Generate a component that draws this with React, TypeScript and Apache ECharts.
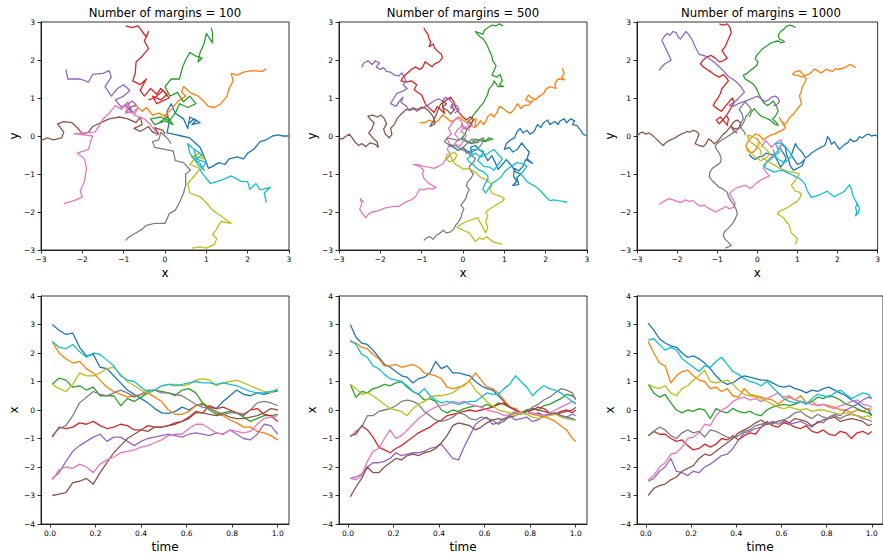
import React, { useEffect, useRef } from "react";
import * as echarts from "echarts";

// matplotlib tab10 colours: blue, orange, green, red, purple, brown, pink, gray, olive, cyan
const COLORS = ["#1f77b4", "#ff7f0e", "#2ca02c", "#d62728", "#9467bd", "#8c564b", "#e377c2", "#7f7f7f", "#bcbd22", "#17becf"];
const MARGINS = [100, 500, 1000];
const TIME_TICKS = [0, 0.2, 0.4, 0.6, 0.8, 1.0];

// time grids of the x(t) panels
const TIME_100 = [0.01, 0.04, 0.07, 0.1, 0.13, 0.16, 0.19, 0.22, 0.25, 0.28, 0.31, 0.34, 0.37, 0.4, 0.43, 0.46, 0.49, 0.52, 0.55, 0.58, 0.61, 0.64, 0.67, 0.7, 0.73, 0.76, 0.79, 0.82, 0.85, 0.88, 0.91, 0.94, 0.97, 1.0];
const TIME_FINE = [0.01, 0.035, 0.06, 0.085, 0.11, 0.135, 0.16, 0.185, 0.21, 0.235, 0.26, 0.285, 0.31, 0.335, 0.36, 0.385, 0.41, 0.435, 0.46, 0.485, 0.51, 0.535, 0.56, 0.585, 0.61, 0.635, 0.66, 0.685, 0.71, 0.735, 0.76, 0.785, 0.81, 0.835, 0.86, 0.885, 0.91, 0.935, 0.96, 0.985, 1.0];

// 2-D paths (x, y), margins = 100
const PATH_100 = [
  [[3.0,0.0],[2.85,0.0],[2.75,0.03],[2.6,0.0],[2.45,-0.1],[2.3,-0.15],[2.15,-0.35],[2.0,-0.45],[1.9,-0.6],[1.75,-0.55],[1.55,-0.6],[1.45,-0.75],[1.3,-0.7],[1.15,-0.8],[1.05,-0.85],[0.95,-0.55],[0.85,-0.3],[0.6,-0.05],[0.4,0.0],[0.2,0.05],[0.05,0.08],[0.1,0.35],[0.05,0.65],[0.15,0.85],[0.25,0.6],[0.45,0.45],[0.55,0.2],[0.6,0.5],[0.75,0.4],[0.65,0.3],[0.85,0.35],[0.7,0.45],[0.6,0.35],[0.65,0.4]],
  [[2.45,1.77],[2.35,1.7],[2.1,1.72],[1.9,1.68],[1.75,1.6],[1.6,1.65],[1.65,1.45],[1.55,1.25],[1.5,1.05],[1.35,0.85],[1.2,0.75],[1.05,0.78],[0.95,0.9],[0.8,1.05],[0.6,1.15],[0.45,1.3],[0.4,1.15],[0.5,1.05],[0.3,0.9],[0.15,0.7],[0.0,0.55],[0.1,0.45],[-0.05,0.55],[-0.15,0.6],[-0.3,0.55],[-0.45,0.75],[-0.55,0.65],[-0.7,0.8],[-0.85,0.75],[-1.0,0.8]],
  [[1.12,2.85],[1.15,2.7],[1.15,2.45],[1.0,2.7],[0.95,2.45],[0.85,2.2],[0.8,1.95],[0.9,2.05],[0.75,2.1],[0.6,2.2],[0.5,2.0],[0.42,1.8],[0.35,1.5],[0.15,1.5],[0.0,1.3],[0.12,1.05],[0.3,1.15],[0.45,0.9],[0.6,1.05],[0.75,0.85],[0.55,0.75],[0.35,0.85],[0.25,0.6],[0.1,0.4],[-0.1,0.5],[-0.35,0.45],[-0.25,0.3],[0.0,0.4],[0.2,0.3],[0.05,0.5],[-0.15,0.35]],
  [[-0.95,2.9],[-0.8,2.85],[-0.65,2.9],[-0.55,2.75],[-0.45,2.6],[-0.4,2.75],[-0.5,2.5],[-0.4,2.3],[-0.55,2.1],[-0.7,1.95],[-0.72,1.65],[-0.78,1.45],[-0.6,1.35],[-0.45,1.5],[-0.6,1.2],[-0.5,1.05],[-0.35,1.25],[-0.2,1.1],[-0.1,1.25],[0.05,1.1],[-0.1,0.95],[-0.3,1.05],[-0.2,0.85],[0.1,1.0],[-0.05,1.2],[-0.25,1.0],[-0.4,0.95]],
  [[-2.4,1.75],[-2.35,1.5],[-2.05,1.5],[-1.85,1.42],[-1.75,1.62],[-1.5,1.65],[-1.35,1.72],[-1.3,1.55],[-1.45,1.3],[-1.3,1.05],[-1.15,1.25],[-1.0,1.35],[-0.85,1.2],[-1.0,1.05],[-1.2,0.95],[-1.05,0.75],[-0.9,0.88],[-0.8,0.65],[-0.95,0.6],[-0.85,0.75],[-0.7,0.82],[-0.8,0.92],[-0.95,0.78],[-0.75,0.6],[-0.85,0.7]],
  [[-3.0,-0.12],[-2.85,-0.05],[-2.7,-0.1],[-2.5,-0.05],[-2.45,0.1],[-2.6,0.32],[-2.45,0.38],[-2.25,0.35],[-2.1,0.2],[-2.0,0.05],[-1.85,0.1],[-1.75,0.25],[-1.55,0.35],[-1.35,0.45],[-1.1,0.5],[-0.9,0.45],[-0.7,0.35],[-0.6,0.5],[-0.55,0.3],[-0.75,0.2],[-0.6,0.12],[-0.4,0.25],[-0.3,0.1],[-0.15,0.05],[-0.25,0.22],[-0.05,0.15],[0.0,0.05]],
  [[-2.45,-1.78],[-2.2,-1.7],[-2.0,-1.6],[-2.05,-1.45],[-1.95,-1.2],[-1.9,-0.85],[-1.95,-0.6],[-2.12,-0.45],[-1.85,-0.35],[-1.8,-0.15],[-1.75,0.0],[-2.2,0.06],[-1.7,0.1],[-1.6,0.25],[-1.5,0.45],[-1.35,0.6],[-1.2,0.8],[-1.05,0.7],[-0.9,0.9],[-0.95,0.65],[-0.8,0.6],[-0.65,0.75],[-0.75,0.55],[-0.5,0.45],[-0.35,0.3],[-0.25,0.15],[-0.2,0.0]],
  [[-0.95,-2.75],[-0.9,-2.68],[-0.78,-2.6],[-0.55,-2.45],[-0.45,-2.35],[-0.25,-2.3],[0.0,-2.3],[0.1,-2.05],[0.25,-1.95],[0.35,-1.75],[0.45,-1.5],[0.5,-1.3],[0.5,-1.0],[0.62,-0.9],[0.45,-0.7],[0.25,-0.65],[0.2,-0.4],[0.0,-0.35],[-0.25,-0.3],[-0.3,-0.15],[-0.15,-0.1],[-0.1,0.1],[0.05,-0.05],[0.15,-0.2]],
  [[0.65,-2.95],[0.85,-2.92],[1.0,-2.95],[1.2,-2.85],[1.25,-2.7],[1.15,-2.6],[1.25,-2.45],[1.35,-2.25],[1.6,-2.3],[1.35,-2.1],[1.15,-1.95],[1.0,-1.75],[0.85,-1.6],[0.6,-1.5],[0.55,-1.25],[0.75,-1.0],[0.85,-0.85],[0.6,-0.75],[0.75,-0.55],[0.95,-0.6],[0.85,-0.45],[0.65,-0.55],[0.8,-0.7],[0.7,-0.5]],
  [[2.45,-1.75],[2.4,-1.5],[2.55,-1.35],[2.3,-1.42],[2.2,-1.25],[2.05,-1.4],[2.0,-1.2],[1.85,-1.2],[1.6,-1.05],[1.4,-1.15],[1.25,-1.2],[1.1,-1.25],[0.95,-1.05],[0.85,-0.9],[1.0,-0.7],[0.75,-0.6],[0.9,-0.5],[0.65,-0.3],[0.55,-0.2],[0.6,-0.45],[0.8,-0.75],[0.95,-0.9],[0.75,-0.55],[0.7,-0.35]],
];

// 2-D paths (x, y), margins = 500
const PATH_500 = [
  [[3.0,0.0],[2.9,0.05],[2.85,0.15],[2.75,0.28],[2.65,0.3],[2.7,0.4],[2.6,0.45],[2.5,0.35],[2.45,0.45],[2.35,0.4],[2.3,0.3],[2.22,0.38],[2.1,0.3],[2.05,0.42],[1.95,0.35],[1.88,0.22],[1.8,0.3],[1.72,0.12],[1.62,0.05],[1.55,0.15],[1.45,0.08],[1.38,0.2],[1.3,0.1],[1.25,-0.05],[1.15,-0.1],[1.05,-0.2],[1.0,-0.35],[1.12,-0.3],[1.2,-0.42],[1.32,-0.35],[1.42,-0.18],[1.5,-0.3],[1.6,-0.42],[1.55,-0.6],[1.68,-0.72],[1.52,-0.62],[1.45,-0.8],[1.35,-0.92],[1.25,-0.85],[1.22,-1.05],[1.3,-1.2],[1.2,-1.3],[1.35,-1.28],[1.3,-1.1],[1.4,-1.0],[1.28,-0.95],[1.15,-0.75],[1.05,-0.62],[0.95,-0.75],[0.85,-0.88],[0.78,-0.7],[0.7,-0.52],[0.6,-0.65],[0.5,-0.45],[0.38,-0.35],[0.3,-0.25],[0.18,-0.3],[0.22,-0.45],[0.1,-0.4],[0.0,-0.3],[-0.12,-0.38],[-0.25,-0.28],[-0.35,-0.25]],
  [[2.4,1.78],[2.45,1.65],[2.38,1.55],[2.45,1.48],[2.3,1.5],[2.22,1.38],[2.25,1.25],[2.1,1.3],[2.0,1.22],[1.95,1.12],[1.85,1.05],[1.75,0.95],[1.65,1.02],[1.58,1.08],[1.52,0.95],[1.65,0.88],[1.7,0.95],[1.6,0.82],[1.48,0.8],[1.4,0.72],[1.32,0.85],[1.25,0.72],[1.15,0.6],[1.05,0.65],[0.98,0.72],[0.88,0.78],[0.82,0.62],[0.75,0.5],[0.68,0.58],[0.6,0.52],[0.55,0.38],[0.5,0.3],[0.42,0.4],[0.35,0.28],[0.28,0.22],[0.32,0.45],[0.22,0.38],[0.12,0.33],[0.0,0.42],[-0.1,0.5],[-0.2,0.42],[-0.3,0.38],[-0.42,0.5],[-0.5,0.55],[-0.6,0.4],[-0.7,0.35],[-0.82,0.42],[-0.92,0.35],[-1.05,0.35]],
  [[0.97,2.9],[0.88,2.95],[0.8,2.9],[0.7,2.92],[0.6,2.85],[0.52,2.78],[0.48,2.68],[0.38,2.72],[0.3,2.75],[0.4,2.62],[0.5,2.55],[0.55,2.45],[0.6,2.35],[0.65,2.22],[0.7,2.1],[0.72,1.98],[0.8,1.85],[0.75,1.72],[0.7,1.6],[0.82,1.55],[0.9,1.62],[0.95,1.45],[0.88,1.35],[0.98,1.3],[0.85,1.3],[0.75,1.45],[0.72,1.35],[0.62,1.22],[0.6,1.1],[0.55,1.0],[0.5,0.88],[0.42,0.78],[0.35,0.68],[0.3,0.62],[0.38,0.72],[0.25,0.55],[0.2,0.45],[0.12,0.38],[0.22,0.3],[0.1,0.2],[0.05,0.05],[-0.05,-0.08],[0.08,-0.15],[0.2,-0.2],[0.3,-0.08],[0.42,-0.12],[0.55,-0.15],[0.62,-0.05],[0.72,-0.08],[0.58,-0.12],[0.45,-0.1]],
  [[-0.95,2.85],[-0.9,2.75],[-0.85,2.68],[-0.82,2.55],[-0.78,2.48],[-0.82,2.35],[-0.72,2.42],[-0.68,2.3],[-0.6,2.22],[-0.52,2.15],[-0.5,2.05],[-0.58,1.95],[-0.68,1.9],[-0.75,1.82],[-0.85,1.9],[-0.92,1.95],[-0.98,1.8],[-1.05,1.75],[-1.15,1.82],[-1.25,1.75],[-1.35,1.65],[-1.45,1.55],[-1.5,1.45],[-1.38,1.42],[-1.25,1.45],[-1.12,1.35],[-1.18,1.22],[-1.1,1.15],[-1.0,1.08],[-0.95,0.95],[-0.9,0.82],[-0.8,0.72],[-0.7,0.62],[-0.62,0.78],[-0.55,0.7],[-0.45,0.6],[-0.5,0.85],[-0.4,0.95],[-0.3,1.02],[-0.22,0.9],[-0.18,0.75],[-0.1,0.62],[-0.02,0.52],[0.08,0.42],[0.18,0.5],[0.25,0.45],[0.2,0.3],[0.12,0.18],[0.02,0.22],[-0.05,0.3]],
  [[-2.45,1.8],[-2.4,1.92],[-2.3,1.98],[-2.2,1.88],[-2.12,1.98],[-2.02,1.92],[-2.1,1.82],[-2.0,1.75],[-1.92,1.8],[-1.85,1.7],[-1.75,1.68],[-1.65,1.6],[-1.55,1.58],[-1.48,1.66],[-1.42,1.55],[-1.38,1.45],[-1.45,1.35],[-1.35,1.25],[-1.45,1.18],[-1.6,1.12],[-1.68,0.98],[-1.75,0.85],[-1.62,0.78],[-1.55,0.9],[-1.45,1.02],[-1.5,0.88],[-1.38,0.8],[-1.3,0.68],[-1.2,0.75],[-1.12,0.65],[-1.02,0.72],[-0.9,0.78],[-0.8,0.85],[-0.7,0.92],[-0.6,0.98],[-0.5,0.92],[-0.42,1.02],[-0.32,0.95],[-0.25,0.85],[-0.3,0.75],[-0.2,0.68],[-0.28,0.82],[-0.15,0.8],[-0.1,0.7],[-0.2,0.6]],
  [[-3.0,-0.05],[-2.92,-0.08],[-2.85,-0.02],[-2.75,0.05],[-2.68,-0.05],[-2.6,-0.18],[-2.52,-0.25],[-2.45,-0.2],[-2.35,-0.28],[-2.25,-0.18],[-2.12,-0.22],[-2.05,-0.3],[-2.08,-0.15],[-2.18,-0.05],[-2.28,0.08],[-2.2,0.2],[-2.15,0.35],[-2.25,0.45],[-2.3,0.52],[-2.18,0.55],[-2.08,0.5],[-1.98,0.55],[-1.9,0.45],[-1.85,0.32],[-1.92,0.18],[-1.88,0.05],[-1.78,-0.05],[-1.72,0.05],[-1.75,0.2],[-1.65,0.32],[-1.6,0.45],[-1.52,0.55],[-1.45,0.62],[-1.38,0.7],[-1.28,0.68],[-1.18,0.72],[-1.08,0.7],[-1.0,0.76],[-0.9,0.72],[-0.82,0.65],[-0.75,0.55],[-0.7,0.45],[-0.68,0.32],[-0.8,0.25],[-0.72,0.4],[-0.65,0.55],[-0.6,0.7],[-0.55,0.82],[-0.48,0.92],[-0.4,0.85],[-0.5,0.75],[-0.38,0.68],[-0.3,0.58],[-0.22,0.68]],
  [[-2.4,-1.75],[-2.48,-1.65],[-2.45,-1.8],[-2.5,-1.92],[-2.45,-2.02],[-2.35,-2.15],[-2.28,-2.05],[-2.2,-2.0],[-2.1,-1.98],[-2.0,-1.95],[-1.9,-1.9],[-1.8,-1.88],[-1.68,-1.85],[-1.55,-1.85],[-1.45,-1.78],[-1.35,-1.72],[-1.25,-1.68],[-1.15,-1.6],[-1.1,-1.5],[-1.05,-1.4],[-0.95,-1.42],[-0.85,-1.38],[-0.75,-1.4],[-0.65,-1.35],[-0.78,-1.28],[-0.88,-1.2],[-0.95,-1.1],[-0.98,-1.0],[-0.95,-0.9],[-1.05,-0.8],[-1.2,-0.75],[-1.1,-0.75],[-0.95,-0.8],[-0.82,-0.82],[-0.7,-0.85],[-0.6,-0.8],[-0.5,-0.75],[-0.42,-0.62],[-0.3,-0.5],[-0.38,-0.35],[-0.32,-0.2],[-0.4,-0.05],[-0.28,0.05],[-0.35,0.2],[-0.25,0.35],[-0.15,0.48],[-0.05,0.4],[0.0,0.28],[-0.12,0.18],[-0.2,0.05],[-0.1,-0.08],[-0.2,-0.2],[-0.08,-0.28],[0.0,-0.15],[0.08,0.02],[-0.05,0.12],[0.05,0.25],[0.15,0.15],[0.1,0.38],[0.2,0.28],[0.25,0.22]],
  [[-0.95,-2.75],[-0.88,-2.68],[-0.8,-2.65],[-0.72,-2.72],[-0.65,-2.62],[-0.55,-2.55],[-0.48,-2.48],[-0.4,-2.55],[-0.3,-2.52],[-0.22,-2.45],[-0.18,-2.35],[-0.12,-2.28],[-0.05,-2.15],[-0.02,-2.02],[0.02,-1.92],[-0.05,-1.82],[0.02,-1.72],[0.08,-1.62],[0.1,-1.52],[0.15,-1.42],[0.08,-1.3],[0.12,-1.2],[0.2,-1.1],[0.25,-1.0],[0.18,-0.9],[0.15,-0.8],[0.25,-0.7],[0.3,-0.6],[0.2,-0.5],[0.1,-0.42],[-0.05,-0.35],[-0.2,-0.25],[-0.35,-0.22],[-0.45,-0.15],[-0.38,-0.05],[-0.25,-0.08],[-0.1,-0.12],[0.0,-0.05],[0.12,-0.15],[0.25,-0.2],[0.38,-0.1],[0.5,-0.05],[0.45,-0.22],[0.35,-0.35],[0.2,-0.42],[0.08,-0.45],[0.0,-0.3],[0.1,-0.2],[0.22,-0.08],[0.32,-0.18],[0.4,-0.15]],
  [[0.95,-2.85],[0.85,-2.82],[0.75,-2.8],[0.65,-2.72],[0.58,-2.65],[0.48,-2.72],[0.4,-2.68],[0.3,-2.78],[0.22,-2.65],[0.15,-2.55],[0.05,-2.5],[-0.05,-2.45],[-0.15,-2.4],[-0.05,-2.32],[0.1,-2.25],[0.22,-2.2],[0.35,-2.15],[0.42,-2.28],[0.5,-2.45],[0.55,-2.55],[0.6,-2.4],[0.55,-2.25],[0.6,-2.1],[0.55,-2.0],[0.65,-1.92],[0.75,-1.85],[0.85,-1.78],[0.95,-1.72],[1.0,-1.65],[0.9,-1.58],[0.8,-1.55],[0.7,-1.5],[0.65,-1.4],[0.7,-1.28],[0.62,-1.2],[0.55,-1.15],[0.45,-1.1],[0.38,-1.05],[0.3,-0.95],[0.22,-0.9],[0.12,-0.85],[0.02,-0.88],[-0.08,-0.8],[-0.18,-0.75],[-0.25,-0.65],[-0.3,-0.52],[-0.38,-0.48],[-0.42,-0.6],[-0.32,-0.68],[-0.2,-0.62],[-0.15,-0.5],[-0.22,-0.42],[-0.3,-0.48],[-0.35,-0.55]],
  [[2.52,-1.75],[2.42,-1.72],[2.3,-1.7],[2.2,-1.68],[2.1,-1.7],[2.0,-1.6],[1.92,-1.5],[1.85,-1.42],[1.78,-1.35],[1.7,-1.3],[1.62,-1.25],[1.55,-1.2],[1.48,-1.1],[1.4,-1.0],[1.48,-0.9],[1.55,-0.8],[1.42,-0.72],[1.3,-0.7],[1.2,-0.78],[1.1,-0.85],[1.0,-0.95],[0.9,-1.1],[0.8,-1.18],[0.7,-1.25],[0.62,-1.38],[0.55,-1.5],[0.48,-1.4],[0.52,-1.28],[0.6,-1.15],[0.6,-1.05],[0.5,-0.95],[0.4,-0.9],[0.3,-0.82],[0.25,-0.75],[0.15,-0.68],[0.1,-0.6],[0.2,-0.52],[0.3,-0.45],[0.42,-0.55],[0.55,-0.5],[0.65,-0.42],[0.75,-0.35],[0.85,-0.48],[0.95,-0.6],[0.85,-0.75],[0.75,-0.9],[0.65,-0.82],[0.5,-0.8],[0.42,-0.7],[0.35,-0.65],[0.45,-0.5],[0.5,-0.4],[0.35,-0.35],[0.2,-0.35],[0.15,-0.48],[0.2,-0.55]],
];

// 2-D paths (x, y), margins = 1000
const PATH_1000 = [
  [[3.0,0.0],[2.92,0.02],[2.85,0.0],[2.78,0.05],[2.7,0.02],[2.62,-0.05],[2.55,-0.02],[2.48,-0.12],[2.4,-0.15],[2.32,-0.08],[2.25,-0.18],[2.18,-0.22],[2.1,-0.3],[2.05,-0.35],[1.98,-0.25],[1.92,-0.15],[1.85,-0.22],[1.8,-0.08],[1.75,-0.02],[1.72,-0.15],[1.68,-0.25],[1.58,-0.3],[1.5,-0.35],[1.42,-0.4],[1.35,-0.45],[1.28,-0.52],[1.2,-0.58],[1.15,-0.48],[1.08,-0.38],[1.0,-0.3],[0.95,-0.2],[0.9,-0.35],[0.85,-0.5],[0.92,-0.62],[1.0,-0.75],[1.1,-0.7],[1.18,-0.62],[1.12,-0.78],[1.0,-0.85],[0.9,-0.9],[0.82,-0.78],[0.78,-0.62],[0.72,-0.45],[0.7,-0.3],[0.62,-0.22],[0.55,-0.3],[0.65,-0.45],[0.72,-0.58],[0.65,-0.72],[0.58,-0.82],[0.5,-0.65],[0.42,-0.5],[0.32,-0.48],[0.22,-0.45],[0.15,-0.52],[0.05,-0.55],[-0.05,-0.62],[-0.15,-0.55],[-0.2,-0.48]],
  [[2.45,1.8],[2.38,1.85],[2.3,1.88],[2.22,1.82],[2.12,1.78],[2.02,1.75],[1.95,1.78],[1.88,1.7],[1.8,1.72],[1.72,1.76],[1.65,1.7],[1.58,1.66],[1.5,1.72],[1.42,1.76],[1.35,1.68],[1.28,1.62],[1.2,1.6],[1.12,1.55],[1.05,1.58],[0.95,1.6],[0.88,1.62],[0.95,1.7],[1.05,1.72],[1.15,1.62],[1.22,1.5],[1.18,1.4],[1.12,1.3],[1.1,1.18],[1.05,1.05],[1.08,0.95],[1.1,0.85],[1.02,0.75],[0.95,0.65],[0.88,0.55],[0.8,0.48],[0.75,0.38],[0.68,0.3],[0.6,0.4],[0.55,0.48],[0.62,0.35],[0.7,0.22],[0.62,0.15],[0.52,0.1],[0.42,0.05],[0.32,0.02],[0.22,-0.05],[0.15,-0.1],[0.05,0.02],[-0.05,0.05],[-0.15,-0.05],[-0.22,-0.12],[-0.28,-0.25],[-0.25,-0.38],[-0.15,-0.45],[-0.05,-0.38],[0.02,-0.25],[0.05,-0.15],[-0.02,-0.05]],
  [[0.95,2.85],[0.88,2.9],[0.8,2.92],[0.72,2.88],[0.65,2.8],[0.58,2.75],[0.52,2.65],[0.55,2.55],[0.62,2.52],[0.68,2.48],[0.6,2.45],[0.52,2.5],[0.42,2.48],[0.35,2.45],[0.28,2.4],[0.2,2.35],[0.12,2.28],[0.05,2.2],[-0.02,2.12],[-0.05,2.02],[0.02,1.95],[-0.02,1.85],[-0.1,1.78],[-0.18,1.72],[-0.25,1.65],[-0.35,1.6],[-0.3,1.5],[-0.22,1.45],[-0.12,1.38],[-0.05,1.3],[0.0,1.2],[0.05,1.08],[0.1,0.98],[0.15,0.88],[0.25,0.8],[0.32,0.85],[0.4,0.92],[0.48,0.78],[0.52,0.65],[0.45,0.52],[0.38,0.45],[0.48,0.35],[0.52,0.28],[0.42,0.32],[0.32,0.42],[0.2,0.48],[0.1,0.52],[0.0,0.62],[-0.08,0.72],[-0.15,0.62],[-0.2,0.5]],
  [[-0.95,2.95],[-0.85,2.92],[-0.75,2.95],[-0.68,2.85],[-0.65,2.72],[-0.7,2.6],[-0.75,2.48],[-0.8,2.35],[-0.88,2.25],[-0.82,2.15],[-0.75,2.05],[-0.85,1.98],[-0.95,1.95],[-1.05,2.05],[-1.15,2.12],[-1.25,2.08],[-1.35,2.0],[-1.42,1.9],[-1.35,1.82],[-1.25,1.75],[-1.15,1.68],[-1.05,1.6],[-0.95,1.55],[-0.85,1.62],[-0.78,1.55],[-0.72,1.45],[-0.8,1.35],[-0.88,1.25],[-0.92,1.12],[-0.98,1.0],[-1.05,0.9],[-1.1,0.8],[-1.0,0.72],[-0.9,0.65],[-0.82,0.75],[-0.72,0.88],[-0.62,1.0],[-0.58,0.88],[-0.65,0.75],[-0.72,0.62],[-0.8,0.5],[-0.88,0.4],[-0.95,0.32],[-1.02,0.42],[-0.92,0.5],[-0.82,0.38],[-0.75,0.28],[-0.72,0.45],[-0.78,0.55]],
  [[-2.45,1.72],[-2.38,1.82],[-2.3,1.9],[-2.22,1.95],[-2.15,2.0],[-2.2,2.12],[-2.25,2.22],[-2.32,2.38],[-2.38,2.52],[-2.32,2.62],[-2.25,2.7],[-2.18,2.65],[-2.1,2.75],[-2.02,2.72],[-1.98,2.62],[-1.92,2.55],[-1.85,2.65],[-1.78,2.75],[-1.72,2.68],[-1.65,2.58],[-1.6,2.48],[-1.55,2.35],[-1.5,2.25],[-1.45,2.15],[-1.35,2.12],[-1.25,2.08],[-1.15,2.0],[-1.05,1.92],[-0.95,1.82],[-0.85,1.72],[-0.75,1.6],[-0.65,1.52],[-0.55,1.45],[-0.45,1.35],[-0.38,1.25],[-0.32,1.15],[-0.42,1.05],[-0.5,0.95],[-0.6,0.88],[-0.7,0.8],[-0.6,0.78],[-0.48,0.85],[-0.35,0.9],[-0.22,0.95],[-0.1,1.0],[0.0,1.05],[0.1,0.98],[0.2,0.9],[0.28,0.95],[0.35,1.02],[0.45,1.05],[0.52,1.0],[0.55,0.9],[0.48,0.82],[0.4,0.8]],
  [[-3.0,0.0],[-2.92,0.08],[-2.85,0.1],[-2.78,0.05],[-2.7,0.08],[-2.62,0.02],[-2.55,-0.05],[-2.48,-0.12],[-2.4,-0.2],[-2.35,-0.25],[-2.28,-0.18],[-2.2,-0.12],[-2.12,-0.08],[-2.05,-0.05],[-1.98,0.0],[-1.9,0.05],[-1.82,0.08],[-1.75,0.12],[-1.68,0.1],[-1.6,0.15],[-1.52,0.12],[-1.45,0.05],[-1.5,-0.08],[-1.55,-0.2],[-1.45,-0.25],[-1.35,-0.28],[-1.28,-0.2],[-1.22,-0.08],[-1.15,-0.12],[-1.08,-0.2],[-1.0,-0.15],[-0.92,-0.05],[-0.85,0.05],[-0.78,0.1],[-0.72,0.18],[-0.65,0.28],[-0.58,0.38],[-0.5,0.42],[-0.42,0.35],[-0.45,0.22],[-0.55,0.18],[-0.65,0.25],[-0.58,0.12],[-0.5,0.08]],
  [[-2.45,-1.8],[-2.38,-1.75],[-2.3,-1.7],[-2.2,-1.65],[-2.1,-1.68],[-2.0,-1.72],[-1.9,-1.75],[-1.8,-1.68],[-1.7,-1.72],[-1.6,-1.7],[-1.52,-1.78],[-1.42,-1.85],[-1.32,-1.82],[-1.22,-1.9],[-1.12,-1.95],[-1.05,-2.0],[-0.95,-1.95],[-0.85,-1.9],[-0.78,-1.85],[-0.7,-1.92],[-0.6,-1.88],[-0.55,-1.78],[-0.62,-1.65],[-0.7,-1.52],[-0.6,-1.42],[-0.48,-1.35],[-0.38,-1.32],[-0.28,-1.3],[-0.18,-1.38],[-0.08,-1.3],[0.0,-1.22],[0.1,-1.15],[0.2,-1.1],[0.3,-1.05],[0.22,-0.95],[0.15,-0.85],[0.22,-0.72],[0.3,-0.6],[0.4,-0.5],[0.5,-0.4],[0.55,-0.3],[0.62,-0.2],[0.58,-0.1],[0.5,-0.15],[0.42,-0.22],[0.35,-0.3],[0.28,-0.2],[0.2,-0.12],[0.15,-0.22],[0.1,-0.3]],
  [[-0.8,-2.95],[-0.72,-2.92],[-0.65,-2.88],[-0.72,-2.8],[-0.8,-2.72],[-0.85,-2.62],[-0.82,-2.52],[-0.75,-2.45],[-0.68,-2.38],[-0.6,-2.28],[-0.55,-2.18],[-0.5,-2.05],[-0.52,-1.95],[-0.58,-1.82],[-0.65,-1.72],[-0.72,-1.6],[-0.75,-1.48],[-0.85,-1.4],[-0.95,-1.35],[-1.05,-1.25],[-1.12,-1.18],[-1.2,-1.08],[-1.18,-0.95],[-1.12,-0.85],[-1.02,-0.78],[-0.92,-0.7],[-0.9,-0.58],[-0.95,-0.45],[-1.02,-0.35],[-1.05,-0.25],[-0.95,-0.15],[-0.85,-0.08],[-0.75,-0.02],[-0.65,0.05],[-0.55,0.12],[-0.45,0.2],[-0.38,0.28],[-0.32,0.4],[-0.28,0.52],[-0.2,0.62],[-0.15,0.7],[-0.22,0.8],[-0.3,0.9],[-0.38,0.8],[-0.45,0.7],[-0.38,0.58],[-0.35,0.45],[-0.42,0.32],[-0.4,0.2],[-0.32,0.1],[-0.3,0.02]],
  [[0.95,-2.85],[0.98,-2.78],[1.0,-2.7],[0.92,-2.62],[0.85,-2.55],[0.82,-2.45],[0.8,-2.35],[0.72,-2.25],[0.65,-2.15],[0.58,-2.1],[0.5,-2.05],[0.55,-1.98],[0.62,-1.95],[0.72,-1.9],[0.8,-1.85],[0.9,-1.78],[1.0,-1.72],[1.05,-1.65],[1.1,-1.55],[1.05,-1.48],[0.95,-1.45],[0.9,-1.38],[0.85,-1.3],[0.92,-1.2],[1.0,-1.08],[1.05,-1.0],[0.92,-0.95],[0.8,-0.95],[0.68,-0.9],[0.55,-0.85],[0.45,-0.78],[0.35,-0.72],[0.25,-0.65],[0.15,-0.6],[0.1,-0.5],[0.08,-0.38],[0.02,-0.3],[-0.08,-0.22],[-0.18,-0.15],[-0.22,-0.05],[-0.25,0.02],[-0.15,0.0],[-0.05,-0.05],[0.05,-0.15],[0.15,-0.28],[0.25,-0.38],[0.32,-0.48],[0.2,-0.58],[0.08,-0.65],[-0.05,-0.55],[-0.15,-0.45],[-0.22,-0.35],[-0.3,-0.25]],
  [[2.5,-1.75],[2.45,-1.88],[2.48,-2.0],[2.45,-2.1],[2.52,-2.02],[2.55,-1.9],[2.5,-1.8],[2.42,-1.65],[2.38,-1.55],[2.35,-1.42],[2.3,-1.28],[2.25,-1.35],[2.18,-1.45],[2.1,-1.5],[2.0,-1.55],[1.92,-1.6],[1.82,-1.52],[1.75,-1.45],[1.65,-1.5],[1.55,-1.55],[1.45,-1.58],[1.35,-1.62],[1.28,-1.5],[1.22,-1.38],[1.2,-1.28],[1.12,-1.18],[1.02,-1.1],[0.92,-1.05],[0.82,-1.0],[0.72,-0.95],[0.62,-0.9],[0.52,-0.92],[0.42,-0.95],[0.32,-0.9],[0.22,-0.85],[0.15,-0.78],[0.25,-0.68],[0.35,-0.6],[0.45,-0.5],[0.55,-0.42],[0.5,-0.3],[0.45,-0.2],[0.55,-0.18],[0.65,-0.22],[0.72,-0.3],[0.8,-0.42],[0.85,-0.52],[0.78,-0.62],[0.68,-0.7],[0.58,-0.65],[0.48,-0.58],[0.42,-0.45],[0.4,-0.35]],
];

// x(t) on TIME_100, margins = 100
const XT_100 = [
  [3.0,2.8,2.65,2.7,2.2,1.9,1.95,1.5,1.45,1.2,0.95,0.7,0.55,0.4,0.25,0.05,-0.1,-0.12,-0.05,0.1,0.0,0.15,0.2,0.1,0.05,0.3,0.5,0.7,0.55,0.5,0.6,0.55,0.62,0.67],
  [2.4,2.0,1.8,1.65,1.7,1.45,1.3,1.05,0.8,0.65,0.55,0.45,0.5,0.55,0.6,0.45,0.3,0.0,-0.15,-0.15,-0.05,0.15,0.25,0.1,-0.1,-0.2,-0.35,-0.45,-0.6,-0.6,-0.75,-0.8,-0.9,-1.05],
  [0.9,1.12,1.05,0.8,0.85,0.7,0.8,0.5,0.5,0.5,0.15,0.4,0.3,0.45,0.6,0.7,0.65,0.6,0.5,0.7,0.75,0.6,0.25,0.0,-0.15,-0.1,-0.05,-0.1,-0.25,-0.4,-0.3,-0.2,-0.2,-0.15],
  [-0.95,-0.6,-0.65,-0.6,-0.45,-0.5,-0.4,-0.55,-0.65,-0.6,-0.5,-0.55,-0.7,-0.7,-0.55,-0.6,-0.6,-0.55,-0.45,-0.4,-0.25,-0.05,-0.1,0.15,0.05,0.1,0.0,-0.1,-0.15,0.0,0.05,-0.15,-0.2,-0.4],
  [-2.4,-2.2,-1.8,-1.45,-1.25,-1.1,-0.95,-0.85,-1.1,-0.95,-0.95,-1.1,-1.25,-1.1,-1.0,-0.95,-0.9,-0.85,-0.9,-0.95,-0.85,-0.8,-0.85,-0.9,-0.8,-0.85,-0.7,-0.85,-1.0,-1.05,-0.85,-0.5,-0.55,-0.85],
  [-3.0,-2.95,-2.9,-2.55,-2.5,-2.4,-2.6,-2.2,-1.85,-1.5,-1.25,-1.0,-0.85,-0.7,-0.75,-0.6,-0.6,-0.55,-0.5,-0.4,-0.3,-0.1,-0.1,-0.15,-0.2,-0.15,-0.25,-0.3,-0.3,-0.25,-0.2,-0.1,0.05,0.0],
  [-2.45,-2.1,-2.0,-2.05,-1.9,-2.0,-2.2,-1.9,-1.75,-1.65,-1.5,-1.45,-1.4,-1.3,-1.25,-1.15,-1.05,-0.9,-0.85,-0.85,-0.65,-0.5,-0.5,-0.65,-0.8,-0.85,-0.7,-0.75,-0.8,-0.75,-0.5,-0.3,-0.25,-0.2],
  [-0.9,-0.65,-0.55,-0.2,0.25,0.45,0.65,0.55,0.5,0.6,0.7,0.6,0.45,0.55,0.7,0.7,0.6,0.6,0.55,0.5,0.35,0.2,0.1,0.05,-0.05,-0.15,-0.1,-0.1,-0.2,0.0,0.25,0.3,0.25,0.15],
  [0.9,0.75,0.65,0.9,1.3,1.2,1.2,1.3,1.45,1.5,1.25,1.0,0.85,0.7,0.6,0.7,0.85,0.9,0.9,0.85,0.9,1.05,1.1,1.05,0.85,0.95,1.0,1.05,0.95,0.85,0.75,0.65,0.6,0.75],
  [2.4,2.2,2.15,2.3,2.05,1.85,2.0,1.95,1.75,1.55,1.2,1.05,1.0,0.8,0.65,0.7,0.85,0.9,0.85,0.9,0.95,1.0,0.95,0.95,0.9,0.95,0.9,0.85,0.75,0.65,0.6,0.6,0.65,0.7],
];

// x(t) on TIME_FINE, margins = 500
const XT_500 = [
  [3.0,2.55,2.35,2.3,2.1,1.85,1.6,1.5,1.35,1.2,1.15,0.95,1.1,1.15,1.3,1.7,1.45,1.55,1.3,1.3,1.25,1.2,1.0,0.85,0.75,0.7,0.5,0.3,0.1,0.0,-0.1,0.0,-0.15,-0.1,-0.2,-0.15,-0.1,-0.2,-0.25,-0.3,-0.35],
  [2.4,2.35,2.2,2.15,1.95,1.8,1.55,1.55,1.6,1.5,1.55,1.6,1.5,1.3,1.25,1.2,1.1,0.8,0.75,0.8,0.85,1.05,1.3,1.05,0.8,0.75,0.6,0.35,0.1,0.05,-0.1,-0.05,-0.15,-0.2,-0.25,-0.3,-0.4,-0.55,-0.7,-1.0,-1.1],
  [0.9,0.45,0.65,0.6,0.75,0.8,0.9,0.85,0.95,1.0,0.8,0.65,0.55,0.35,0.4,0.3,0.0,-0.1,0.0,-0.05,0.05,0.1,0.15,0.1,0.2,0.1,0.25,0.2,0.1,0.0,-0.1,0.0,0.05,0.0,0.15,0.2,0.3,0.4,0.55,0.5,0.4],
  [-0.9,-0.85,-0.55,-0.7,-0.95,-1.3,-1.4,-1.5,-1.35,-1.25,-1.1,-0.95,-0.8,-0.7,-0.6,-0.45,-0.35,-0.2,-0.15,-0.1,-0.05,0.0,-0.05,0.0,0.05,0.1,0.2,0.25,0.1,0.0,-0.1,-0.05,0.0,0.1,0.05,-0.1,-0.15,-0.05,0.0,-0.1,0.0],
  [-2.4,-2.35,-2.25,-2.0,-1.85,-1.85,-1.8,-1.7,-1.5,-1.6,-1.55,-1.5,-1.5,-1.45,-1.35,-1.3,-1.2,-1.45,-1.7,-1.75,-1.3,-0.9,-0.5,-0.35,-0.25,-0.5,-0.45,-0.3,-0.2,-0.35,-0.3,-0.25,-0.4,-0.35,-0.2,-0.15,-0.1,-0.2,-0.25,-0.15,-0.2],
  [-3.05,-2.7,-2.4,-2.0,-2.2,-2.2,-2.0,-1.85,-1.7,-1.75,-1.6,-1.55,-1.6,-1.5,-1.45,-1.35,-1.15,-0.9,-0.55,-0.45,-0.5,-0.55,-0.7,-0.6,-0.45,-0.35,-0.3,-0.35,-0.25,-0.2,-0.1,-0.05,0.05,0.0,-0.05,-0.1,-0.15,-0.1,-0.05,0.0,0.1],
  [-2.4,-2.45,-2.3,-1.8,-1.45,-1.35,-1.0,-0.7,-1.0,-0.9,-0.7,-0.5,-0.3,-0.15,0.0,0.1,0.15,0.2,0.3,0.25,0.3,0.2,0.15,0.1,0.0,-0.05,-0.1,-0.2,-0.15,-0.05,-0.1,-0.15,-0.1,-0.15,-0.2,-0.1,0.0,0.1,0.2,0.3,0.25],
  [-0.95,-0.75,-0.6,-0.2,-0.2,-0.05,0.0,0.05,0.15,0.3,0.35,0.3,0.2,-0.05,-0.2,-0.35,-0.4,-0.35,-0.25,-0.1,-0.15,-0.3,-0.35,-0.25,-0.3,-0.35,-0.5,-0.4,-0.2,-0.1,-0.15,-0.05,0.1,0.2,0.35,0.45,0.6,0.75,0.7,0.6,0.35],
  [0.9,0.75,0.55,0.6,0.5,0.35,0.2,0.05,0.0,-0.05,-0.2,0.05,0.2,0.3,0.45,0.5,0.5,0.55,0.6,0.75,0.9,1.0,0.7,0.5,0.3,0.15,0.0,-0.05,-0.1,-0.2,-0.1,-0.15,-0.25,-0.3,-0.25,-0.2,-0.15,-0.25,-0.3,-0.35,-0.35],
  [2.45,2.3,1.95,1.85,1.55,1.45,1.25,1.1,1.05,1.0,0.85,0.65,0.55,0.75,0.5,0.35,0.25,0.3,0.25,0.2,0.25,0.3,0.3,0.45,0.6,0.55,0.55,0.75,0.9,1.2,1.0,0.8,0.5,0.7,0.85,0.75,0.7,0.6,0.45,0.3,0.2],
];

// x(t) on TIME_FINE, margins = 1000
const XT_1000 = [
  [3.05,2.8,2.5,2.35,2.25,2.2,2.0,1.85,1.9,1.8,1.65,1.45,1.2,1.0,0.9,0.95,1.1,1.2,1.15,1.1,1.05,1.05,0.95,0.85,0.8,0.85,0.75,0.7,0.6,0.7,0.65,0.75,0.8,0.7,0.6,0.5,0.35,0.25,0.1,0.0,-0.2],
  [2.4,2.0,1.65,1.55,0.95,1.2,1.35,1.4,1.2,1.05,1.0,0.75,0.8,0.65,0.75,0.5,0.45,0.75,0.55,0.5,0.45,0.4,0.35,0.2,0.35,0.45,0.35,0.5,0.25,0.3,0.15,0.2,0.15,0.1,0.0,0.0,-0.1,0.0,-0.05,0.05,0.0],
  [0.9,0.6,0.45,0.55,0.25,0.0,-0.1,0.0,-0.05,0.05,0.0,-0.3,0.05,-0.05,-0.1,0.05,-0.05,-0.1,-0.05,-0.15,-0.2,0.0,0.1,0.15,0.2,0.15,0.2,0.3,0.25,0.3,0.45,0.4,0.5,0.45,0.35,0.2,0.15,0.05,-0.05,-0.1,-0.2],
  [-0.9,-0.75,-0.85,-0.85,-1.0,-1.1,-1.05,-1.25,-1.4,-1.35,-1.2,-1.3,-1.2,-1.0,-1.05,-0.9,-1.05,-0.9,-0.8,-0.85,-0.6,-0.4,-0.55,-0.6,-0.45,-0.5,-0.6,-0.65,-0.55,-0.75,-0.8,-0.7,-0.85,-0.9,-0.75,-0.8,-1.0,-0.8,-0.75,-0.85,-0.75],
  [-2.5,-2.4,-2.15,-2.0,-1.7,-2.15,-2.2,-2.3,-2.15,-2.2,-2.0,-1.9,-1.75,-1.6,-1.55,-1.35,-1.05,-0.8,-0.75,-0.65,-0.6,-0.5,-0.4,-0.5,-0.4,-0.5,-0.45,-0.4,-0.5,-0.6,-0.4,-0.45,-0.25,-0.15,-0.2,0.0,0.1,0.2,0.35,0.45,0.4],
  [-3.0,-2.75,-2.65,-2.6,-2.45,-2.35,-2.15,-2.05,-1.95,-1.7,-1.55,-1.6,-1.45,-1.3,-1.15,-1.0,-0.8,-0.7,-0.6,-0.45,-0.35,-0.5,-0.45,-0.4,-0.35,-0.45,-0.3,-0.35,-0.4,-0.55,-0.45,-0.35,-0.3,-0.25,-0.4,-0.35,-0.3,-0.35,-0.4,-0.55,-0.5],
  [-2.45,-2.3,-2.0,-1.85,-1.55,-1.5,-1.3,-1.0,-0.95,-0.8,-0.5,-0.55,-0.2,0.0,0.1,0.3,0.4,0.45,0.35,0.4,0.3,0.4,0.5,0.6,0.45,0.5,0.35,0.3,0.25,0.2,0.15,0.2,0.1,0.05,0.15,0.2,0.3,0.35,0.2,0.15,0.1],
  [-0.9,-0.75,-0.6,-0.7,-0.9,-1.0,-0.8,-0.7,-0.8,-0.75,-0.95,-0.7,-0.75,-0.85,-0.95,-1.0,-0.9,-0.75,-0.7,-0.55,-0.5,-0.45,-0.5,-0.4,-0.35,-0.25,-0.1,-0.05,-0.2,-0.3,-0.15,-0.25,-0.3,-0.2,-0.3,-0.2,-0.15,-0.2,-0.3,-0.35,-0.4],
  [0.9,0.8,0.75,0.85,0.6,0.5,0.75,0.85,1.05,1.2,1.4,1.0,0.95,1.0,1.05,0.9,0.7,0.55,0.5,0.45,0.4,0.3,0.2,0.1,0.05,0.1,0.05,0.0,0.05,-0.05,0.0,0.0,-0.05,-0.1,-0.15,-0.1,-0.15,-0.2,-0.25,-0.2,-0.3],
  [2.45,2.5,2.3,2.1,2.2,2.1,1.8,1.65,1.5,1.35,1.55,1.5,1.7,1.85,1.6,1.35,1.25,1.1,1.0,0.95,0.85,1.0,0.8,0.6,0.4,0.3,0.25,0.3,0.2,0.4,0.55,0.5,0.45,0.6,0.7,0.55,0.4,0.5,0.6,0.55,0.4],
];

const PATHS = [PATH_100, PATH_500, PATH_1000];
const XTS = [XT_100, XT_500, XT_1000];
const TIMES = [TIME_100, TIME_FINE, TIME_FINE];

const FONT = "DejaVu Sans";
const GRID_LEFT = [41, 339, 637];
const GRID_W = 248;
const GRID_H = 228;
const TOP_Y = 22;
const BOT_Y = 296;
const LINE_W = 1.3;

const fmtNum = (v: number) => (v < 0 ? "\u2212" + String(-v) : String(v));

function baseAxis(gridIndex: number) {
  return {
    type: "value",
    gridIndex,
    axisLine: { show: true, onZero: false, lineStyle: { color: "#000", width: 0.8 } },
    axisTick: { show: true, inside: false, length: 3.5, lineStyle: { color: "#000", width: 0.8 } },
    axisLabel: { color: "#000", fontSize: 7.5, fontFamily: FONT, margin: 5 },
    splitLine: { show: false },
    nameLocation: "middle",
    nameTextStyle: { color: "#000", fontSize: 12, fontFamily: FONT },
  };
}

export default function App() {
  const ref = useRef<HTMLDivElement>(null);
  useEffect(() => {
    if (!ref.current) return;
    const chart = echarts.init(ref.current, null, { renderer: "svg" });
    const grid: any[] = [];
    const xAxis: any[] = [];
    const yAxis: any[] = [];
    const series: any[] = [];
    const graphic: any[] = [];
    for (let c = 0; c < 3; c++) {
      grid.push({ left: GRID_LEFT[c], top: TOP_Y, width: GRID_W, height: GRID_H, show: true, borderColor: "#000", borderWidth: 0.8, containLabel: false });
    }
    for (let c = 0; c < 3; c++) {
      grid.push({ left: GRID_LEFT[c], top: BOT_Y, width: GRID_W, height: GRID_H, show: true, borderColor: "#000", borderWidth: 0.8, containLabel: false });
    }
    for (let c = 0; c < 3; c++) {
      const b = baseAxis(c);
      xAxis.push({ ...b, min: -3, max: 3, interval: 1, name: "x", nameGap: 17, axisLabel: { ...b.axisLabel, formatter: fmtNum } });
      const by = baseAxis(c);
      yAxis.push({ ...by, min: -3, max: 3, interval: 1, name: "y", nameGap: 21, axisLabel: { ...by.axisLabel, margin: 6, formatter: fmtNum } });
    }
    for (let c = 0; c < 3; c++) {
      const b = baseAxis(3 + c);
      xAxis.push({
        ...b, min: -0.0395, max: 1.0495, name: "time", nameGap: 17,
        axisTick: { ...b.axisTick, customValues: TIME_TICKS },
        axisLabel: { ...b.axisLabel, customValues: TIME_TICKS, formatter: (v: number) => v.toFixed(1) },
      });
      const by = baseAxis(3 + c);
      yAxis.push({ ...by, min: -4, max: 4, interval: 1, name: "x", nameGap: 21, axisLabel: { ...by.axisLabel, margin: 6, formatter: fmtNum } });
    }
    for (let c = 0; c < 3; c++) {
      PATHS[c].forEach((path, i) => {
        series.push({
          type: "line", xAxisIndex: c, yAxisIndex: c, data: path, showSymbol: false, symbol: "none",
          lineStyle: { color: COLORS[i], width: LINE_W, join: "round" }, itemStyle: { color: COLORS[i] }, clip: true, silent: true,
        });
      });
      XTS[c].forEach((vals, i) => {
        series.push({
          type: "line", xAxisIndex: 3 + c, yAxisIndex: 3 + c,
          data: TIMES[c].map((t, k) => [t, vals[k]]), showSymbol: false, symbol: "none",
          lineStyle: { color: COLORS[i], width: LINE_W, join: "round" }, itemStyle: { color: COLORS[i] }, clip: true, silent: true,
        });
      });
      graphic.push({
        type: "text", x: GRID_LEFT[c] + GRID_W / 2, y: 13,
        style: { text: "Number of margins = " + MARGINS[c], fill: "#000", font: `11.7px "${FONT}"`, align: "center", verticalAlign: "middle" },
      });
    }
    chart.setOption({
      animation: false,
      backgroundColor: "#fff",
      grid, xAxis, yAxis, series, graphic,
    });
    return () => chart.dispose();
  }, []);
  return <div ref={ref} style={{ position: "absolute", left: 0, top: 0, width: 883, height: 555 }} />;
}
